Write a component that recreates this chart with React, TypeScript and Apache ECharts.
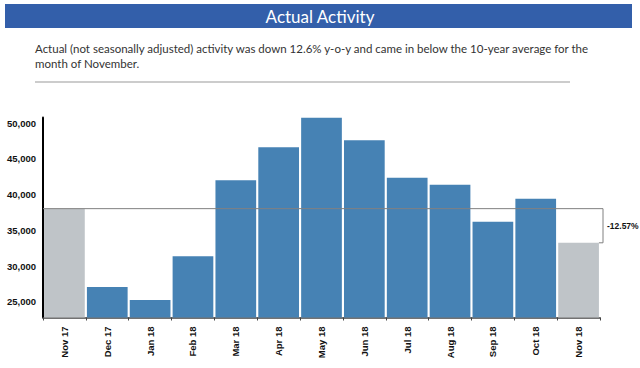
import React, { useEffect, useRef } from "react";
import * as echarts from "echarts";

const categories = ["Nov 17", "Dec 17", "Jan 18", "Feb 18", "Mar 18", "Apr 18", "May 18", "Jun 18", "Jul 18", "Aug 18", "Sep 18", "Oct 18", "Nov 18"];
const activity = [38040, 27060, 25240, 31370, 42000, 46620, 50750, 47620, 42380, 41400, 36220, 39440, 33258];
const yTicks = [25000, 30000, 35000, 40000, 45000, 50000];
const titleText = "Actual Activity";
const bodyLines = [
  "Actual (not seasonally adjusted) activity was down 12.6% y-o-y and came in below the 10-year average for the",
  "month of November.",
];

const BLUE = "#4682b4";
const GRAY = "#bfc4c8";

export default function App() {
  const ref = useRef<HTMLDivElement>(null);
  useEffect(() => {
    document.body.style.margin = "0";
    const chart = echarts.init(ref.current!, null, { renderer: "svg" });
    const last = activity.length - 1;
    const option: any = {
      animation: false,
      grid: { left: 43, right: 40, top: 117.5, bottom: 50.5, containLabel: false },
      xAxis: {
        type: "category",
        data: categories,
        axisLine: { lineStyle: { color: "#444", width: 1.5 } },
        axisTick: { show: true, length: 3, lineStyle: { color: "#444" } },
        axisLabel: {
          rotate: 90,
          margin: 9,
          fontSize: 9.5,
          fontWeight: "bold",
          color: "#111",
          fontFamily: "Liberation Sans",
        },
      },
      yAxis: {
        type: "value",
        min: 22800,
        max: 50800,
        splitLine: { show: false },
        axisLine: { show: true, lineStyle: { color: "#000", width: 2 } },
        axisTick: { show: false },
        axisLabel: {
          margin: 7,
          fontSize: 9.5,
          fontWeight: "bold",
          color: "#111",
          fontFamily: "Liberation Sans",
          formatter: (v: number) => (yTicks.includes(v) ? v.toLocaleString("en-US") : ""),
        },
      },
      series: [
        {
          type: "bar",
          barCategoryGap: "5%",
          data: activity.map((v, i) => ({
            value: v,
            itemStyle: { color: i === 0 || i === last ? GRAY : BLUE },
          })),
        },
      ],
    };
    chart.setOption(option);

    const yStart = chart.convertToPixel({ yAxisIndex: 0 }, activity[0]) as number;
    const yEnd = chart.convertToPixel({ yAxisIndex: 0 }, activity[last]) as number;
    const xLastCenter = chart.convertToPixel({ xAxisIndex: 0 }, categories[last]) as number;
    const band = (chart.convertToPixel({ xAxisIndex: 0 }, categories[1]) as number) - (chart.convertToPixel({ xAxisIndex: 0 }, categories[0]) as number);
    const xLastRight = xLastCenter + band * 0.475;
    const xBox = 603;
    const pct = ((activity[last] - activity[0]) / activity[0]) * 100;
    const pctLabel = (pct > 0 ? "+" : "") + pct.toFixed(2) + "%";

    chart.setOption({
      graphic: [
        { type: "rect", shape: { x: 5, y: 4, width: 627, height: 24 }, style: { fill: "#335faa" } },
        {
          type: "text",
          x: 320,
          y: 16,
          style: { text: titleText, fill: "#fff", font: "17px Lato", align: "center", verticalAlign: "middle" },
        },
        {
          type: "text",
          x: 35,
          y: 48,
          style: { text: bodyLines[0], fill: "#333", font: "11.5px Lato", align: "left", verticalAlign: "middle" },
        },
        {
          type: "text",
          x: 35,
          y: 63,
          style: { text: bodyLines[1], fill: "#333", font: "11.5px Lato", align: "left", verticalAlign: "middle" },
        },
        { type: "line", shape: { x1: 35, y1: 82, x2: 570, y2: 82 }, style: { stroke: "#999", lineWidth: 1 } },
        {
          type: "polyline",
          z: 100,
          shape: { points: [[43, yStart], [xBox, yStart], [xBox, yEnd], [xLastRight, yEnd]] },
          style: { stroke: "#808080", lineWidth: 1, fill: null },
        },
        {
          type: "text",
          x: 607,
          y: (yStart + yEnd) / 2,
          style: { text: pctLabel, fill: "#111", font: "bold 8.5px 'Liberation Sans'", align: "left", verticalAlign: "middle" },
        },
      ],
    });
    return () => chart.dispose();
  }, []);
  return <div ref={ref} style={{ position: "absolute", left: 0, top: 0, width: 640, height: 368 }} />;
}
